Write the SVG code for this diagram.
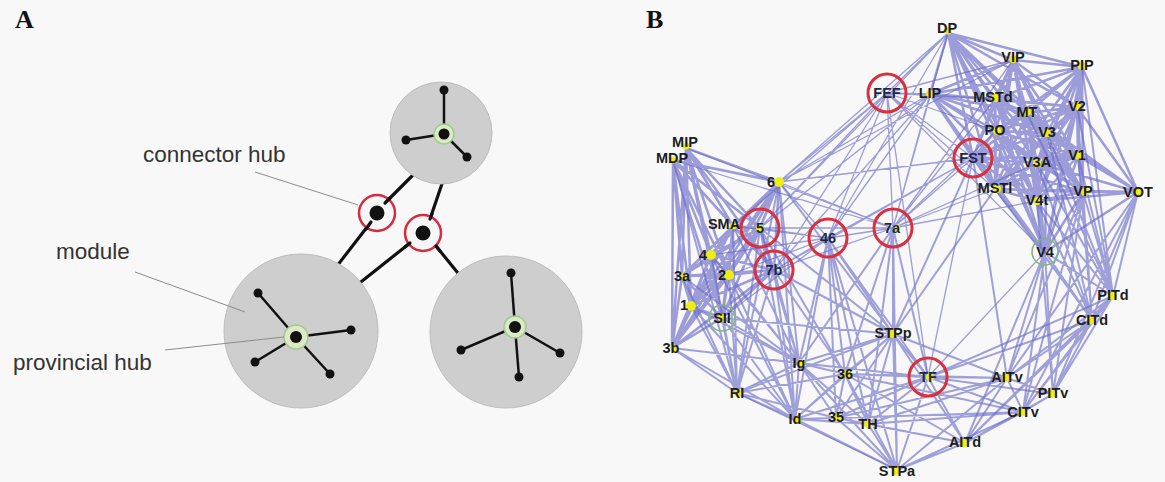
<svg xmlns="http://www.w3.org/2000/svg" width="1165" height="482" viewBox="0 0 1165 482">
<style>
.panel{font-family:"Liberation Serif","Times New Roman",serif;font-size:26px;font-weight:bold;fill:#111}
.lbl{font-family:"Liberation Sans",Arial,sans-serif;font-size:22.5px;fill:#333}
.lead{stroke:#8c8c8c;stroke-width:1;fill:none}
.mod{fill:#cecece;stroke:#bcbcbc;stroke-width:1}
.spoke{stroke:#111;stroke-width:2.5}
.link{stroke:#111;stroke-width:3.2;stroke-linecap:round}
.pn{fill:#111}
.prov{fill:#dde8c6;stroke:#9ccc8c;stroke-width:1.5}
.conn{fill:#f6f6f6;stroke:#d42c40;stroke-width:2.5}
.e{fill:none;stroke:#6a6ac6;stroke-linecap:round}
.ev{stroke-width:2.5;stroke-opacity:.65}
.em{stroke-width:2;stroke-opacity:.62}
.et{stroke-width:1.3;stroke-opacity:.65}
.nl{font-family:"Liberation Sans",Arial,sans-serif;font-size:14.5px;font-weight:bold;fill:#1d1d1d;text-anchor:middle}
.rl{fill:#1c2848}
.dot{fill:#eeee10}
.hub{fill:none;stroke:#d8303e;stroke-width:3}
.ghub{fill:none;stroke:#84b484;stroke-width:1.6}
</style>
<rect width="1165" height="482" fill="#f8f8f8"/>

<!-- panel letters -->
<text class="panel" x="15" y="28">A</text>
<text class="panel" x="646" y="28">B</text>

<!-- ===== Panel A: modular network schematic ===== -->
<g id="a-links">
<line class="link" x1="371" y1="222" x2="313" y2="297"/>
<line class="link" x1="385" y1="203" x2="424" y2="164"/>
<line class="link" x1="430" y1="219" x2="445" y2="175"/>
<line class="link" x1="410" y1="243" x2="342" y2="297"/>
<line class="link" x1="436" y1="246" x2="483" y2="304"/>
</g>

<g id="module-left">
<circle class="mod" cx="301" cy="331" r="77"/>
<line class="spoke" x1="296" y1="337" x2="258" y2="293"/>
<line class="spoke" x1="296" y1="337" x2="351" y2="330"/>
<line class="spoke" x1="296" y1="337" x2="255" y2="362"/>
<line class="spoke" x1="296" y1="337" x2="330" y2="374"/>
<circle class="prov" cx="296" cy="337" r="12"/>
<circle class="pn" cx="296" cy="337" r="6"/>
<circle class="pn" cx="258" cy="293" r="4.5"/>
<circle class="pn" cx="351" cy="330" r="4.5"/>
<circle class="pn" cx="255" cy="362" r="4.5"/>
<circle class="pn" cx="330" cy="374" r="4.5"/>
</g>

<g id="module-top">
<circle class="mod" cx="441" cy="133" r="51"/>
<line class="spoke" x1="444" y1="134" x2="444" y2="90"/>
<line class="spoke" x1="444" y1="134" x2="406" y2="140"/>
<line class="spoke" x1="444" y1="134" x2="467" y2="157"/>
<circle class="prov" cx="444" cy="134" r="10"/>
<circle class="pn" cx="444" cy="134" r="5.5"/>
<circle class="pn" cx="444" cy="90" r="4.5"/>
<circle class="pn" cx="406" cy="140" r="4.5"/>
<circle class="pn" cx="467" cy="157" r="4.5"/>
</g>

<g id="module-right">
<circle class="mod" cx="506" cy="332" r="76"/>
<line class="spoke" x1="515" y1="327" x2="511" y2="273"/>
<line class="spoke" x1="515" y1="327" x2="461" y2="350"/>
<line class="spoke" x1="515" y1="327" x2="560" y2="353"/>
<line class="spoke" x1="515" y1="327" x2="519" y2="377"/>
<circle class="prov" cx="515" cy="327" r="11"/>
<circle class="pn" cx="515" cy="327" r="6"/>
<circle class="pn" cx="511" cy="273" r="4.5"/>
<circle class="pn" cx="461" cy="350" r="4.5"/>
<circle class="pn" cx="560" cy="353" r="4.5"/>
<circle class="pn" cx="519" cy="377" r="4.5"/>
</g>

<g id="connector-hub-1">
<circle class="conn" cx="377" cy="213" r="18"/>
<line class="link" x1="371" y1="222" x2="366" y2="229"/>
<line class="link" x1="385" y1="203" x2="390" y2="198"/>
<circle class="pn" cx="377" cy="213" r="7.5"/>
</g>
<g id="connector-hub-2">
<circle class="conn" cx="423" cy="233" r="18"/>
<line class="link" x1="430" y1="219" x2="432" y2="214"/>
<line class="link" x1="410" y1="243" x2="405" y2="247"/>
<line class="link" x1="436" y1="246" x2="440" y2="251"/>
<circle class="pn" cx="423" cy="233" r="7.5"/>
</g>

<g id="a-labels">
<line class="lead" x1="255" y1="172" x2="358" y2="205"/>
<text class="lbl" x="143" y="162">connector hub</text>
<line class="lead" x1="135" y1="272" x2="245" y2="312"/>
<text class="lbl" x="56" y="259">module</text>
<line class="lead" x1="165" y1="350" x2="284" y2="337"/>
<text class="lbl" x="13" y="370">provincial hub</text>
</g>

<!-- ===== Panel B: cortical network ===== -->
<g id="connectors">
<!-- visual cortex cluster -->
<path class="e ev" d="M948 33L1013 60M948 33L1082 67M948 33L930 94M948 33L995 99M948 33L1027 113M948 33L1077 107M948 33L996 131M948 33L1047 133M948 33L1037 163M948 33L1078 156M948 33L973 158M948 33L995 189M948 33L1083 192M948 33L1037 201M948 33L1045 252
M1013 60L1082 67M1013 60L930 94M1013 60L995 99M1013 60L1027 113M1013 60L1077 107M1013 60L996 131M1013 60L1047 133M1013 60L1037 163M1013 60L1078 156M1013 60L973 158M1013 60L995 189M1013 60L1083 192M1013 60L1037 201M1013 60L1045 252
M1082 67L930 94M1082 67L995 99M1082 67L1027 113M1082 67L1077 107M1082 67L996 131M1082 67L1047 133M1082 67L1037 163M1082 67L1078 156M1082 67L995 189M1082 67L1083 192M1082 67L1138 192M1082 67L1037 201M1082 67L1045 252
M930 94L995 99M930 94L1027 113M930 94L1077 107M930 94L996 131M930 94L1047 133M930 94L1037 163M930 94L973 158M930 94L995 189M930 94L1037 201M930 94L1045 252M930 94L1083 192
M995 99L1027 113M995 99L1077 107M995 99L996 131M995 99L1047 133M995 99L1037 163M995 99L1078 156M995 99L973 158M995 99L995 189M995 99L1083 192M995 99L1037 201M995 99L1045 252
M1027 113L1077 107M1027 113L996 131M1027 113L1047 133M1027 113L1037 163M1027 113L1078 156M1027 113L973 158M1027 113L995 189M1027 113L1083 192M1027 113L1138 192M1027 113L1037 201M1027 113L1045 252
M1077 107L996 131M1077 107L1047 133M1077 107L1037 163M1077 107L1078 156M1077 107L973 158M1077 107L995 189M1077 107L1083 192M1077 107L1138 192M1077 107L1037 201M1077 107L1045 252
M996 131L1047 133M996 131L1037 163M996 131L1078 156M996 131L973 158M996 131L995 189M996 131L1083 192M996 131L1037 201M996 131L1045 252
M1047 133L1037 163M1047 133L1078 156M1047 133L973 158M1047 133L995 189M1047 133L1083 192M1047 133L1138 192M1047 133L1037 201M1047 133L1045 252
M1037 163L1078 156M1037 163L973 158M1037 163L995 189M1037 163L1083 192M1037 163L1138 192M1037 163L1037 201M1037 163L1045 252
M1078 156L973 158M1078 156L995 189M1078 156L1083 192M1078 156L1138 192M1078 156L1037 201M1078 156L1045 252
M973 158L995 189M973 158L1083 192M973 158L1037 201M973 158L1045 252
M995 189L1083 192M995 189L1138 192M995 189L1037 201M995 189L1045 252
M1083 192L1138 192M1083 192L1037 201M1083 192L1045 252M1138 192L1037 201M1138 192L1045 252M1037 201L1045 252"/>
<!-- visual to inferotemporal, inferotemporal cluster -->
<path class="e em" d="M1045 252L1113 296M1045 252L1092 320M1045 252L1053 394M1045 252L1023 412M1045 252L1007 378M1045 252L965 443
M1138 192L1113 296M1138 192L1092 320M1138 192L1053 394M1138 192L1023 412M1138 192L1007 378
M1083 192L1113 296M1083 192L1092 320M1083 192L1053 394M1083 192L1023 412M1083 192L1007 378
M1037 201L1113 296M1037 201L1092 320M1037 201L1053 394
M1077 107L1113 296M1047 133L1113 296M1047 133L1092 320M1037 163L1113 296M1037 163L1092 320M1078 156L1113 296M1078 156L1092 320M1027 113L1113 296M1082 67L1113 296
M995 189L1092 320M973 158L1007 378
M1113 296L1092 320M1113 296L1053 394M1113 296L1023 412M1113 296L1007 378M1113 296L965 443
M1092 320L1053 394M1092 320L1023 412M1092 320L1007 378M1092 320L965 443
M1053 394L1023 412M1053 394L1007 378M1053 394L965 443M1023 412L1007 378M1023 412L965 443M1007 378L965 443"/>
<!-- temporal, parahippocampal and insular areas -->
<path class="e em" d="M928 377L1007 378M928 377L1023 412M928 377L1053 394M928 377L965 443M928 377L1092 320M928 377L1113 296M928 377L893 334M928 377L897 470M928 377L868 424M928 377L836 418M928 377L845 374M928 377L893 228M928 377L828 238M928 377L799 363M928 377L795 419
M897 470L965 443M897 470L1023 412M897 470L1007 378M897 470L893 334M897 470L845 374M897 470L836 418M897 470L868 424M897 470L795 419M897 470L799 363M897 470L828 238M897 470L893 228
M1007 378L893 334M1007 378L845 374M1007 378L868 424M1007 378L836 418
M965 443L845 374M965 443L868 424M965 443L836 418M965 443L893 334
M1023 412L868 424M1023 412L845 374M1023 412L836 418
M893 334L893 228M893 334L828 238M893 334L845 374M893 334L836 418M893 334L868 424M893 334L799 363M893 334L795 419M893 334L774 270M893 334L737 393M893 334L973 158M893 334L995 189M893 334L779 182M893 334L722 318M893 334L760 228
M845 374L836 418M845 374L868 424M845 374L799 363M845 374L795 419M845 374L828 238M845 374L893 228M845 374L774 270M845 374L737 393M845 374L760 228
M836 418L868 424M836 418L795 419M836 418L799 363M836 418L737 393M836 418L828 238
M868 424L795 419M868 424L799 363M868 424L893 228M868 424L828 238
M799 363L795 419M799 363L737 393M799 363L722 318M799 363L691 306M799 363L729 275M799 363L672 348M799 363L711 255M799 363L774 270M799 363L760 228M799 363L779 182M799 363L828 238M799 363L733 226M799 363L682 276M799 363L893 228
M795 419L737 393M795 419L722 318M795 419L691 306M795 419L729 275M795 419L672 348M795 419L774 270M795 419L760 228M795 419L711 255M795 419L828 238M795 419L779 182
M737 393L672 348M737 393L691 306M737 393L729 275M737 393L682 276M737 393L711 255M737 393L722 318M737 393L760 228M737 393L774 270M737 393L733 226M737 393L779 182M737 393L673 160"/>
<!-- somatomotor cluster -->
<path class="e ev" d="M686 148L779 182M686 148L733 226M686 148L760 228M686 148L711 255M686 148L682 276M686 148L729 275M686 148L774 270M686 148L691 306M686 148L722 318M686 148L672 348
M673 160L779 182M673 160L733 226M673 160L760 228M673 160L711 255M673 160L682 276M673 160L729 275M673 160L774 270M673 160L691 306M673 160L722 318M673 160L672 348
M779 182L733 226M779 182L760 228M779 182L711 255M779 182L682 276M779 182L729 275M779 182L774 270M779 182L691 306M779 182L722 318M779 182L672 348
M733 226L760 228M733 226L711 255M733 226L682 276M733 226L729 275M733 226L774 270M733 226L691 306M733 226L722 318M733 226L672 348
M760 228L711 255M760 228L682 276M760 228L729 275M760 228L774 270M760 228L691 306M760 228L722 318M760 228L672 348
M711 255L682 276M711 255L729 275M711 255L774 270M711 255L691 306M711 255L722 318M711 255L672 348
M682 276L729 275M682 276L774 270M682 276L691 306M682 276L722 318M682 276L672 348
M729 275L774 270M729 275L691 306M729 275L722 318M729 275L672 348
M774 270L691 306M774 270L722 318M774 270L672 348M691 306L722 318M691 306L672 348M722 318L672 348"/>
<!-- long-range links between clusters -->
<path class="e et" d="M779 182L887 93M779 182L828 238M779 182L893 228M779 182L930 94M779 182L948 33M779 182L1013 60M779 182L973 158
M686 148L893 228M673 160L893 228
M828 238L887 93M828 238L893 228M828 238L760 228M828 238L774 270M828 238L733 226M828 238L930 94M828 238L948 33M828 238L973 158M828 238L729 275M828 238L722 318M828 238L711 255
M893 228L887 93M893 228L930 94M893 228L948 33M893 228L1013 60M893 228L995 99M893 228L995 189M893 228L973 158M893 228L996 131M893 228L1037 201M893 228L774 270M893 228L760 228M893 228L1037 163
M887 93L948 33M887 93L930 94M887 93L1013 60M887 93L995 99M887 93L995 189M887 93L973 158M887 93L996 131M887 93L1045 252M887 93L760 228M887 93L774 270M887 93L733 226
M774 270L930 94M774 270L973 158M760 228L930 94M760 228L948 33
M928 377L1045 252M928 377L973 158M928 377L887 93M897 470L737 393"/>
</g>

<!-- hub areas (red rings) -->
<g id="n-FEF"><circle class="hub" cx="887" cy="93" r="19"/><text class="nl rl" x="887" y="98">FEF</text></g>
<g id="n-FST"><circle class="hub" cx="973" cy="158" r="19"/><text class="nl rl" x="973" y="163">FST</text></g>
<g id="n-5"><circle class="dot" cx="760" cy="228" r="4"/><circle class="hub" cx="760" cy="228" r="19"/></g>
<g id="n-46"><circle class="hub" cx="828" cy="238" r="19"/><text class="nl rl" x="828" y="243">46</text></g>
<g id="n-7a"><circle class="dot" cx="897" cy="228" r="3.5"/><circle class="hub" cx="893" cy="228" r="19"/><text class="nl rl" x="892" y="233">7a</text></g>
<g id="n-7b"><circle class="hub" cx="774" cy="270" r="19"/><text class="nl rl" x="774" y="275">7b</text></g>
<g id="n-TF"><circle class="dot" cx="930" cy="377" r="4"/><circle class="hub" cx="928" cy="377" r="19"/><text class="nl rl" x="928" y="382">TF</text></g>

<!-- areas with green rings -->
<g id="n-SII"><circle class="dot" cx="722" cy="318" r="4"/><circle class="ghub" cx="722" cy="318" r="13"/><text class="nl" x="722" y="323">SII</text></g>
<g id="n-V4"><circle class="ghub" cx="1045" cy="252" r="13"/><text class="nl" x="1045" y="257">V4</text></g>

<!-- other areas -->
<g id="n-DP"><circle class="dot" cx="948" cy="31" r="3.5"/><text class="nl" x="947" y="33">DP</text></g>
<g id="n-VIP"><circle class="dot" cx="1013" cy="59" r="4"/><text class="nl" x="1013" y="62">VIP</text></g>
<g id="n-PIP"><circle class="dot" cx="1082" cy="66" r="4"/><text class="nl" x="1082" y="70">PIP</text></g>
<g id="n-LIP"><circle class="dot" cx="930" cy="94" r="4"/><text class="nl" x="930" y="98">LIP</text></g>
<g id="n-MSTd"><circle class="dot" cx="995" cy="98" r="4"/><text class="nl" x="993" y="102">MSTd</text></g>
<g id="n-MT"><circle class="dot" cx="1027" cy="112" r="4"/><text class="nl" x="1027" y="117">MT</text></g>
<g id="n-V2"><circle class="dot" cx="1077" cy="106" r="4"/><text class="nl" x="1077" y="111">V2</text></g>
<g id="n-PO"><circle class="dot" cx="997" cy="131" r="4"/><text class="nl" x="995" y="135">PO</text></g>
<g id="n-V3"><circle class="dot" cx="1047" cy="133" r="4"/><text class="nl" x="1047" y="137">V3</text></g>
<g id="n-V3A"><circle class="dot" cx="1037" cy="163" r="4"/><text class="nl" x="1037" y="167">V3A</text></g>
<g id="n-V1"><circle class="dot" cx="1079" cy="156" r="4"/><text class="nl" x="1077" y="160">V1</text></g>
<g id="n-MSTl"><circle class="dot" cx="997" cy="189" r="4"/><text class="nl" x="995" y="193">MSTl</text></g>
<g id="n-VP"><circle class="dot" cx="1085" cy="192" r="4"/><text class="nl" x="1083" y="196">VP</text></g>
<g id="n-VOT"><circle class="dot" cx="1138" cy="192" r="4"/><text class="nl" x="1138" y="197">VOT</text></g>
<g id="n-V4t"><circle class="dot" cx="1037" cy="201" r="4"/><text class="nl" x="1037" y="205">V4t</text></g>
<g id="n-PITd"><circle class="dot" cx="1113" cy="296" r="4"/><text class="nl" x="1113" y="300">PITd</text></g>
<g id="n-CITd"><circle class="dot" cx="1092" cy="320" r="4"/><text class="nl" x="1092" y="325">CITd</text></g>
<g id="n-AITv"><circle class="dot" cx="1006" cy="378" r="4"/><text class="nl" x="1007" y="382">AITv</text></g>
<g id="n-PITv"><circle class="dot" cx="1052" cy="394" r="4"/><text class="nl" x="1053" y="398">PITv</text></g>
<g id="n-CITv"><circle class="dot" cx="1022" cy="412" r="4"/><text class="nl" x="1023" y="417">CITv</text></g>
<g id="n-AITd"><circle class="dot" cx="964" cy="443" r="4"/><text class="nl" x="965" y="447">AITd</text></g>
<g id="n-STPa"><circle class="dot" cx="896" cy="471" r="4"/><text class="nl" x="897" y="476">STPa</text></g>
<g id="n-STPp"><circle class="dot" cx="893" cy="334" r="4"/><text class="nl" x="893" y="338">STPp</text></g>
<g id="n-TH"><circle class="dot" cx="868" cy="424" r="4"/><text class="nl" x="868" y="429">TH</text></g>
<g id="n-35"><circle class="dot" cx="838" cy="418" r="4"/><text class="nl" x="836" y="422">35</text></g>
<g id="n-36"><circle class="dot" cx="847" cy="374" r="4"/><text class="nl" x="845" y="379">36</text></g>
<g id="n-Id"><circle class="dot" cx="797" cy="420" r="4"/><text class="nl" x="795" y="424">Id</text></g>
<g id="n-Ig"><circle class="dot" cx="801" cy="363" r="4"/><text class="nl" x="799" y="368">Ig</text></g>
<g id="n-RI"><circle class="dot" cx="738" cy="393" r="4"/><text class="nl" x="737" y="398">RI</text></g>
<g id="n-3b"><circle class="dot" cx="674" cy="348" r="3.5"/><text class="nl" x="671" y="353">3b</text></g>
<g id="n-1"><circle class="dot" cx="691" cy="306" r="5"/><text class="nl" x="684" y="310">1</text></g>
<g id="n-3a"><circle class="dot" cx="684" cy="276" r="3.5"/><text class="nl" x="682" y="281">3a</text></g>
<g id="n-2"><circle class="dot" cx="729" cy="275" r="5"/><text class="nl" x="722" y="280">2</text></g>
<g id="n-4"><circle class="dot" cx="711" cy="255" r="5"/><text class="nl" x="703" y="260">4</text></g>
<g id="n-SMA"><circle class="dot" cx="733" cy="226" r="3.5"/><text class="nl" x="724" y="229">SMA</text><text class="nl rl" x="760" y="233">5</text></g>
<g id="n-6"><circle class="dot" cx="779" cy="182" r="5"/><text class="nl" x="771" y="187">6</text></g>
<g id="n-MIP"><circle class="dot" cx="686" cy="146" r="3.5"/><text class="nl" x="685" y="147">MIP</text></g>
<g id="n-MDP"><circle class="dot" cx="674" cy="160" r="3.5"/><text class="nl" x="672" y="163">MDP</text></g>
</svg>
